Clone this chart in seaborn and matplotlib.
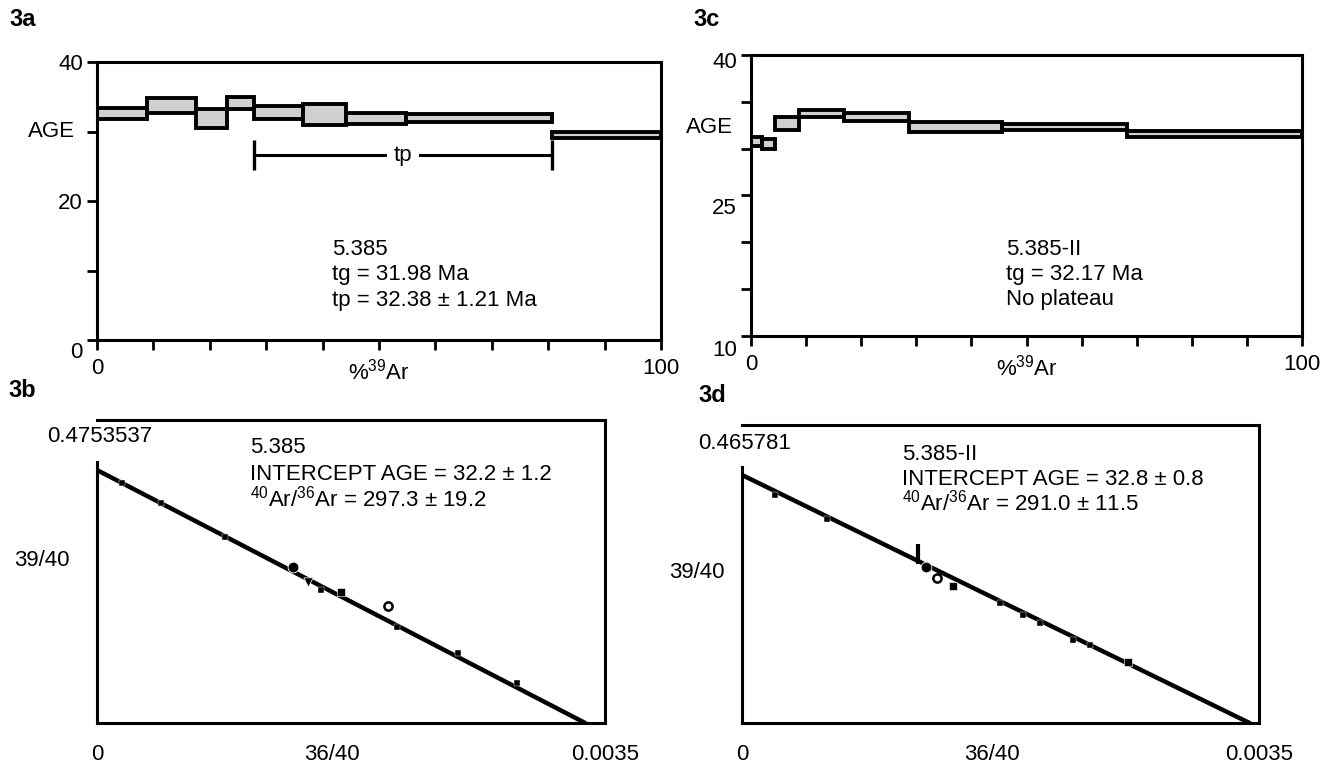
"""Ar-Ar step heating spectra and isochrons for samples 5.385 and 5.385-II"""

import matplotlib
matplotlib.use("Agg")
from matplotlib import pyplot as plt
from matplotlib.transforms import ScaledTranslation
import numpy as np
import pandas as pd
import seaborn as sns

# 3a: age spectrum 5.385 (%39Ar step edges, upper/lower age of each step)
a_edges = [0, 8.9, 17.6, 23.0, 27.8, 36.5, 44.1, 54.8, 80.7, 100]
a_top = [33.4, 34.8, 33.3, 34.9, 33.7, 34.0, 32.6, 32.5, 29.9]
a_bottom = [31.8, 32.7, 30.5, 33.3, 31.8, 30.9, 31.1, 31.4, 29.1]
a_plateau = [27.8, 80.7]
a_plateau_age = 26.6
a_text = ["5.385", "tg = 31.98 Ma", "tp = 32.38 ± 1.21 Ma"]

# 3c: age spectrum 5.385-II
c_edges = [0, 2.0, 4.4, 8.8, 16.8, 28.7, 45.6, 68.2, 100]
c_top = [31.2, 31.0, 33.4, 34.1, 33.85, 32.9, 32.6, 31.9]
c_bottom = [30.3, 30.0, 32.0, 33.4, 33.0, 31.8, 32.0, 31.2]
c_text = ["5.385-II", "tg = 32.17 Ma", "No plateau"]

spec_xticks = list(range(0, 101, 10))
spec_xlabels = ["0", "", "", "", "", r"%$^{39}$Ar", "", "", "", "", "100"]
a_yticks = [0, 10, 20, 30, 40]
a_ylabels = ["0", "", "20", "", "40"]
c_yticks = [10, 15, 20, 25, 30, 35, 40]
c_ylabels = ["10", "", "", "25", "", "", "40"]

# 3b: isochron 5.385 (36/40 vs 39/40)
b_x = [0.000172, 0.000440, 0.000881, 0.001347, 0.001452, 0.001545,
       0.001684, 0.002008, 0.002068, 0.002487, 0.002894]
b_y = [0.437, 0.400, 0.339, 0.285, 0.257, 0.242, 0.238, 0.213, 0.175, 0.127, 0.072]
b_kind = ["small", "small", "small", "dot", "tri", "small", "square",
          "open", "small", "small", "small"]
b_line_x = [0, 1 / 297.3]
b_line_y = [0.4608, 0]
b_ymax = 0.4753537
b_xticks = [0, 0.00162, 0.0035]
b_text = ["5.385", "INTERCEPT AGE = 32.2 ± 1.2", "$^{40}$Ar/$^{36}$Ar = 297.3 ± 19.2"]

# 3d: isochron 5.385-II
d_x = [0.000223, 0.000573, 0.001192, 0.001249, 0.001317, 0.001430,
       0.001745, 0.001903, 0.002016, 0.002241, 0.002354, 0.002613]
d_y = [0.414, 0.370, 0.308, 0.284, 0.263, 0.249, 0.2175, 0.196, 0.181, 0.150, 0.142, 0.111]
d_kind = ["small", "small", "bar", "dot", "open", "square", "small",
          "small", "small", "small", "small", "square"]
d_line_x = [0, 1 / 291.0]
d_line_y = [0.4507, 0]
d_ymax = 0.465781
d_xticks = [0, 0.00169, 0.0035]
d_text = ["5.385-II", "INTERCEPT AGE = 32.8 ± 0.8", "$^{40}$Ar/$^{36}$Ar = 291.0 ± 11.5"]

iso_xlabels = ["0", "36/40", "0.0035"]

sns.set_style("ticks")
plt.rcParams["font.family"] = ["Liberation Sans", "DejaVu Sans"]
plt.rcParams["mathtext.default"] = "regular"
plt.rcParams["font.size"] = 16
for key in ["axes.edgecolor", "text.color", "xtick.color", "ytick.color",
            "axes.labelcolor", "xtick.labelcolor", "ytick.labelcolor"]:
    plt.rcParams[key] = "black"

W, H = 1324, 765
FS = 16
fig = plt.figure(figsize=(W / 100, H / 100), dpi=100)


def box(left, right, top, bottom):
    return [left / W, 1 - bottom / H, (right - left) / W, (bottom - top) / H]


def shift(label, dy):
    label.set_transform(label.get_transform() + ScaledTranslation(0, -dy / 100, fig.dpi_scale_trans))


def text_block(x, baselines, lines):
    # one fig.text per line, positions in pixels from the top left
    for y, line in zip(baselines, lines):
        fig.text(x / W, 1 - y / H, line, ha="left", va="baseline", fontsize=FS)


def spectrum(ax, edges, top, bottom, yticks, ylabels):
    edges = np.array(edges)
    top = np.array(top)
    bottom = np.array(bottom)
    ax.bar(edges[:-1], top - bottom, width=np.diff(edges), bottom=bottom, align="edge",
           color="#d0d0d0", edgecolor="black", linewidth=2.8)
    ax.set_xlim(0, 100)
    ax.set_ylim(yticks[0], yticks[-1])
    ax.set_xticks(spec_xticks)
    ax.set_xticklabels(spec_xlabels)
    ax.set_yticks(yticks)
    ax.set_yticklabels(ylabels)
    ax.tick_params(width=2, length=7.2, labelsize=FS, pad=3)
    ax.tick_params(axis="x", pad=6)
    for side in ["left", "bottom", "top", "right"]:
        ax.spines[side].set_linewidth(2.2)


def isochron(ax, x, y, kind, line_x, line_y, ymax, ytop, xticks):
    sns.lineplot(x=line_x, y=line_y, ax=ax, color="black", linewidth=3.2)
    df = pd.DataFrame({"x": x, "y": y, "kind": kind})
    styles = {
        "small": dict(marker="s", s=14, color="black"),
        "dot": dict(marker="o", s=60, color="black"),
        "tri": dict(marker="v", s=45, color="black"),
        "square": dict(marker="s", s=30, color="black"),
        "open": dict(marker="o", s=35, facecolor="white", edgecolor="black", linewidth=1.8),
        "bar": dict(marker="|", s=200, color="black", linewidth=3),
    }
    for k, grp in df.groupby("kind"):
        sns.scatterplot(data=grp, x="x", y="y", ax=ax, zorder=3, **styles[k])
    ax.set_xlim(0, 0.0035)
    ax.set_ylim(0, ytop)
    ax.set_xticks(xticks)
    ax.set_xticklabels(iso_xlabels)
    ax.set_yticks([])
    ax.set_xlabel("")
    ax.set_ylabel("")
    ax.tick_params(axis="x", length=0, labelsize=FS, pad=15)
    for side in ["left", "bottom", "top", "right"]:
        ax.spines[side].set_linewidth(2.2)
    ax.spines["left"].set_bounds(0, ymax)


# spectra
ax_a = fig.add_axes(box(97, 661, 62, 340))
spectrum(ax_a, a_edges, a_top, a_bottom, a_yticks, a_ylabels)
ax_a.hlines(a_plateau_age, *a_plateau, color="black", linewidth=2.2)
ax_a.vlines(a_plateau, a_plateau_age - 2.2, a_plateau_age + 2.2, color="black", linewidth=2.4)
ax_a.text(np.mean(a_plateau), a_plateau_age, "tp", ha="center", va="center", fontsize=FS,
          bbox=dict(facecolor="white", edgecolor="none", pad=5))
ax_a.annotate("AGE", (0, 30), xycoords=("axes fraction", "data"), xytext=(-16, 0),
              textcoords="offset points", ha="right", va="center", fontsize=FS)
shift(ax_a.get_yticklabels()[0], 10)
text_block(332, [255, 280, 306], a_text)

ax_c = fig.add_axes(box(751, 1302, 55, 336))
spectrum(ax_c, c_edges, c_top, c_bottom, c_yticks, c_ylabels)
ax_c.annotate("AGE", (0, 32.3), xycoords=("axes fraction", "data"), xytext=(-13, 0),
              textcoords="offset points", ha="right", va="center", fontsize=FS)
shift(ax_c.get_yticklabels()[0], 12)
shift(ax_c.get_yticklabels()[3], 11)
shift(ax_c.get_yticklabels()[6], 5)
text_block(1006, [255, 280, 305], c_text)

# isochrons
ax_b = fig.add_axes(box(97, 605, 420, 723))
isochron(ax_b, b_x, b_y, b_kind, b_line_x, b_line_y, b_ymax, 0.552, b_xticks)
ax_b.annotate("0.4753537", (0, b_ymax), xytext=(2, 11), textcoords="offset points",
              ha="center", va="bottom", fontsize=FS)
fig.text(70 / W, 1 - 560 / H, "39/40", ha="right", va="center", fontsize=FS)
text_block(250, [453, 480, 506], b_text)

ax_d = fig.add_axes(box(742, 1259, 425, 723))
isochron(ax_d, d_x, d_y, d_kind, d_line_x, d_line_y, d_ymax, 0.5415, d_xticks)
ax_d.annotate("0.465781", (0, d_ymax), xytext=(2, 9), textcoords="offset points",
              ha="center", va="bottom", fontsize=FS)
fig.text(725 / W, 1 - 572 / H, "39/40", ha="right", va="center", fontsize=FS)
text_block(902, [460, 485, 510], d_text)

# panel labels
for x, y, lab in [(9, 20, "3a"), (693, 20, "3c"), (8, 391, "3b"), (698, 395, "3d")]:
    fig.text(x / W, 1 - y / H, lab, fontsize=17, fontweight="bold", va="center", ha="left")

fig.savefig("out.png", dpi=100)
